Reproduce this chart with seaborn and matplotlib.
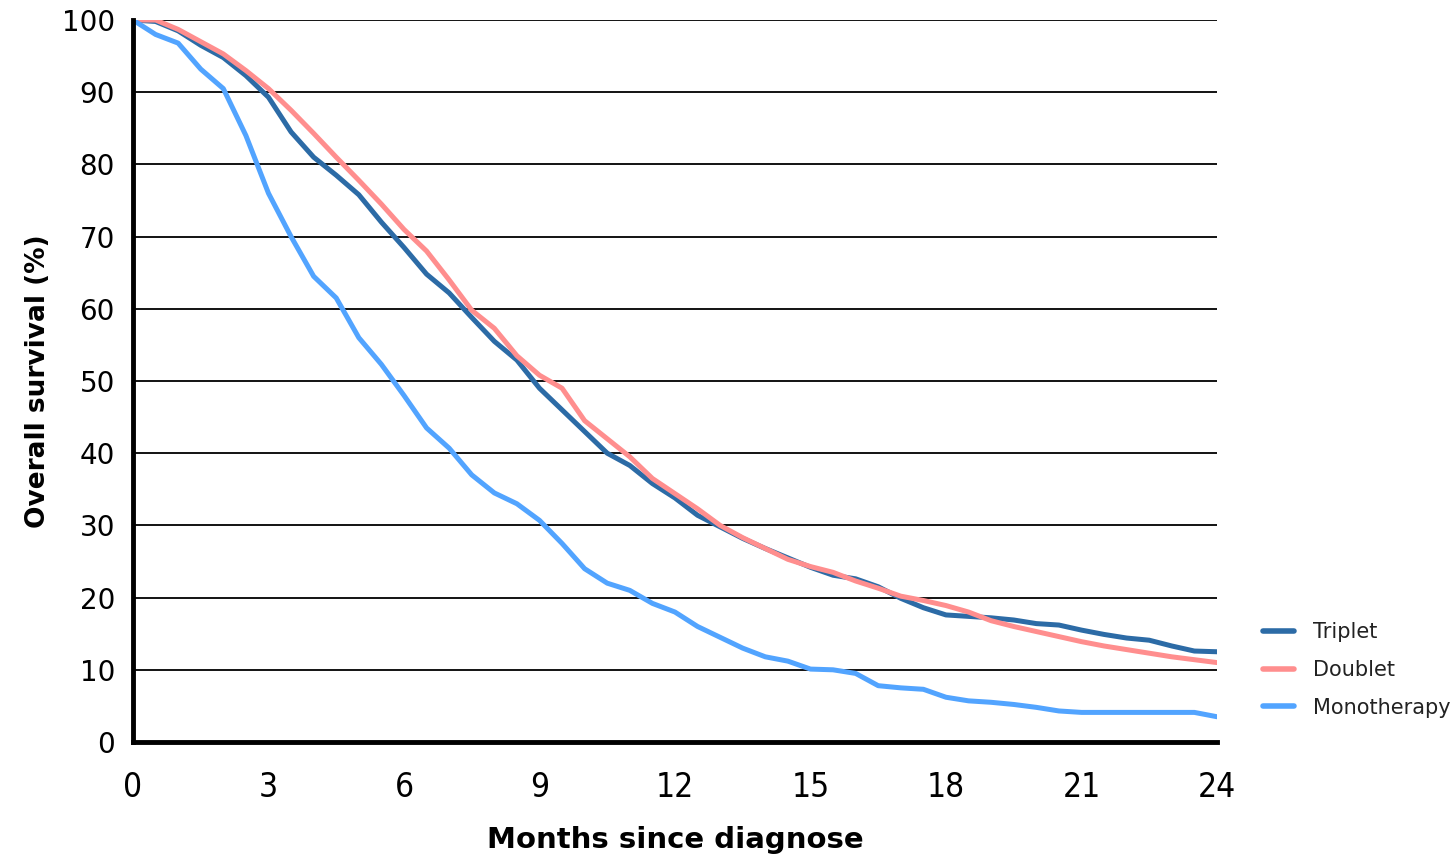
import numpy as np
import pandas as pd
import matplotlib
matplotlib.use("Agg")
import matplotlib.pyplot as plt
import seaborn as sns

months = [0, 0.5, 1, 1.5, 2, 2.5, 3, 3.5, 4, 4.5, 5, 5.5, 6, 6.5, 7, 7.5, 8, 8.5,
          9, 9.5, 10, 10.5, 11, 11.5, 12, 12.5, 13, 13.5, 14, 14.5, 15, 15.5, 16,
          16.5, 17, 17.5, 18, 18.5, 19, 19.5, 20, 20.5, 21, 21.5, 22, 22.5, 23,
          23.5, 24]

triplet = [100, 99.8, 98.5, 96.5, 94.8, 92.3, 89.3, 84.5, 81, 78.5, 75.8, 72,
           68.5, 64.8, 62.2, 58.8, 55.5, 52.9, 49, 46, 43, 40, 38.3, 35.8, 33.8,
           31.4, 29.8, 28.2, 26.8, 25.5, 24.2, 23.1, 22.6, 21.5, 19.9, 18.6,
           17.6, 17.4, 17.2, 16.9, 16.4, 16.2, 15.5, 14.9, 14.4, 14.1, 13.3,
           12.6, 12.5]

doublet = [100, 100, 98.7, 97, 95.3, 93, 90.5, 87.5, 84.3, 81, 77.8, 74.5, 71,
           68, 64, 59.8, 57.3, 53.5, 50.8, 49, 44.5, 42, 39.5, 36.5, 34.4, 32.3,
           30, 28.3, 26.8, 25.3, 24.3, 23.5, 22.3, 21.3, 20.2, 19.6, 18.9, 18,
           16.8, 16, 15.3, 14.6, 13.9, 13.3, 12.8, 12.3, 11.8, 11.4, 11]

mono = [100, 98, 96.8, 93.2, 90.5, 84, 76, 70, 64.5, 61.5, 56, 52.3, 48, 43.5,
        40.7, 37, 34.5, 33, 30.7, 27.5, 24, 22, 21, 19.2, 18, 16, 14.5, 13,
        11.8, 11.2, 10.1, 10, 9.5, 7.8, 7.5, 7.3, 6.2, 5.7, 5.5, 5.2, 4.8, 4.3,
        4.1, 4.1, 4.1, 4.1, 4.1, 4.1, 3.5]

groups = ["Triplet", "Doublet", "Monotherapy"]
colors = ["#2C6BA6", "#FF8E8E", "#52A4FF"]

df = pd.concat([
    pd.DataFrame({"month": months, "survival": vals, "group": g})
    for g, vals in zip(groups, [triplet, doublet, mono])
], ignore_index=True)

sns.set_theme(style="white")
plt.rcParams['font.family'] = ['DejaVu Sans']

fig = plt.figure(figsize=(14.55, 8.59), dpi=100)
ax = fig.add_axes([0.0914, 0.1362, 0.745, 0.8405])

for y in range(10, 101, 10):
    ax.axhline(y, color="black", lw=1.3, zorder=0)

sns.lineplot(data=df, x="month", y="survival", hue="group", hue_order=groups,
             palette=colors, lw=3.6, ax=ax, estimator=None, legend=True)

ax.set_xlim(0, 24)
ax.set_ylim(0, 100)
ax.set_xticks(range(0, 25, 3))
ax.set_yticks(range(0, 101, 10))
ax.tick_params(axis="both", direction="out", length=7, width=2.5, colors="black",
               labelsize=20, pad=6)
ax.tick_params(axis="x", labelsize=24, pad=14)
for lbl in ax.get_xticklabels():
    lbl.set_fontstretch("condensed")
for side in ["top", "right"]:
    ax.spines[side].set_visible(False)
for side in ["left", "bottom"]:
    ax.spines[side].set_color("black")
    ax.spines[side].set_linewidth(3.5)

ax.set_xlabel("Months since diagnose", fontsize=21, fontweight="bold", labelpad=16,
              color="black")
ax.set_ylabel("Overall survival (%)", fontsize=19, fontweight="bold", labelpad=8,
              color="black")

leg = ax.legend(loc="center left", bbox_to_anchor=(1.025, 0.10), frameon=False,
                fontsize=15, handlelength=1.5, handletextpad=0.9,
                labelspacing=0.85, title=None)
for line in leg.get_lines():
    line.set_linewidth(4)
for t in leg.get_texts():
    t.set_color("#222222")

fig.savefig("out.png", dpi=100)
